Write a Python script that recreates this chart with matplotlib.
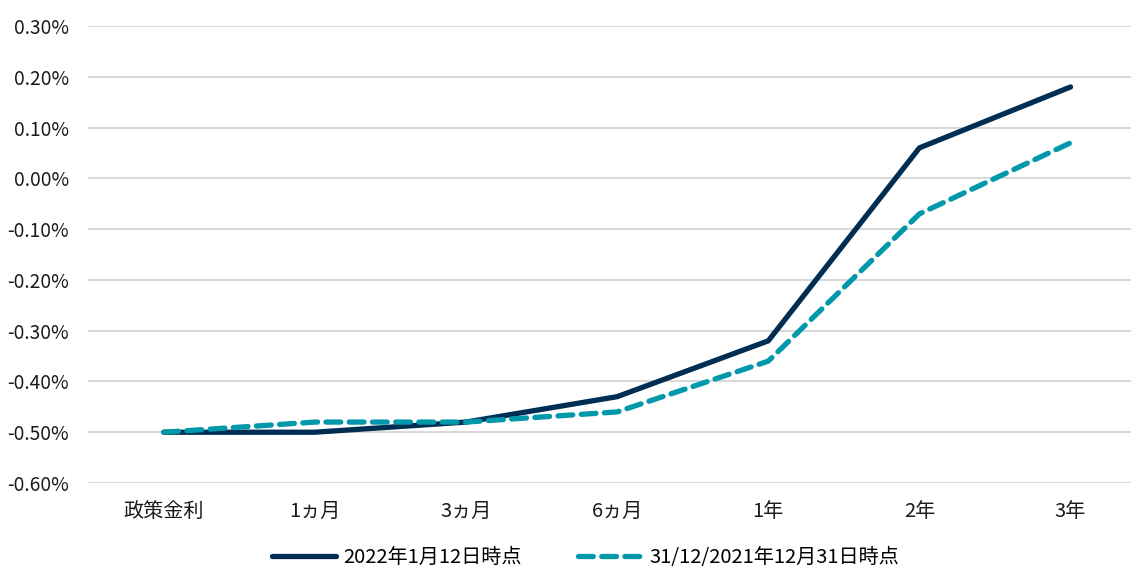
import matplotlib
matplotlib.use("Agg")
import matplotlib.pyplot as plt
from matplotlib.ticker import FuncFormatter

plt.rcParams["font.family"] = ["Noto Sans CJK JP", "DejaVu Sans"]

CATEGORIES = ["政策金利", "1ヵ月", "3ヵ月", "6ヵ月", "1年", "2年", "3年"]
JAN12 = [-0.50, -0.50, -0.48, -0.43, -0.32, 0.06, 0.18]
DEC31 = [-0.50, -0.48, -0.48, -0.46, -0.36, -0.07, 0.07]
LABELS = ["2022年1月12日時点", "31/12/2021年12月31日時点"]
YTICKS = [-0.6, -0.5, -0.4, -0.3, -0.2, -0.1, 0.0, 0.1, 0.2, 0.3]

NAVY = "#002d52"
TEAL = "#0098aa"


def main():
    fig = plt.figure(figsize=(11.31, 5.72), dpi=100)
    ax = fig.add_axes([0.078, 0.1556, 0.922, 0.7989])
    x = list(range(len(CATEGORIES)))

    ax.plot(x, JAN12, color=NAVY, linewidth=3.8, solid_capstyle="round",
            solid_joinstyle="miter", label=LABELS[0], zorder=3)
    ax.plot(x, DEC31, color=TEAL, linewidth=3.8, linestyle=(0, (2.8, 1.6)),
            dash_capstyle="round", label=LABELS[1], zorder=4)

    ax.set_xlim(-0.5, 6.4)
    ax.set_ylim(-0.6, 0.3)
    ax.set_yticks(YTICKS)
    ax.yaxis.set_major_formatter(FuncFormatter(lambda v, _: f"{v:.2f}%"))
    ax.set_xticks(x)
    ax.set_xticklabels(CATEGORIES)
    ax.grid(axis="y", color="#d9d9d9", linewidth=1.5)
    ax.set_axisbelow(True)
    for s in ax.spines.values():
        s.set_visible(False)
    ax.tick_params(axis="both", length=0, colors="#1a1a1a")
    ax.tick_params(axis="x", pad=13, labelsize=14.5)
    ax.tick_params(axis="y", pad=14, labelsize=13.8)

    fig.legend(loc="center", bbox_to_anchor=(0.518, 0.026), ncol=2,
               frameon=False, fontsize=14.5, handlelength=3.2,
               columnspacing=2.8, handletextpad=0.35, borderpad=0.1)

    fig.savefig("out.png", dpi=100)


if __name__ == "__main__":
    main()
